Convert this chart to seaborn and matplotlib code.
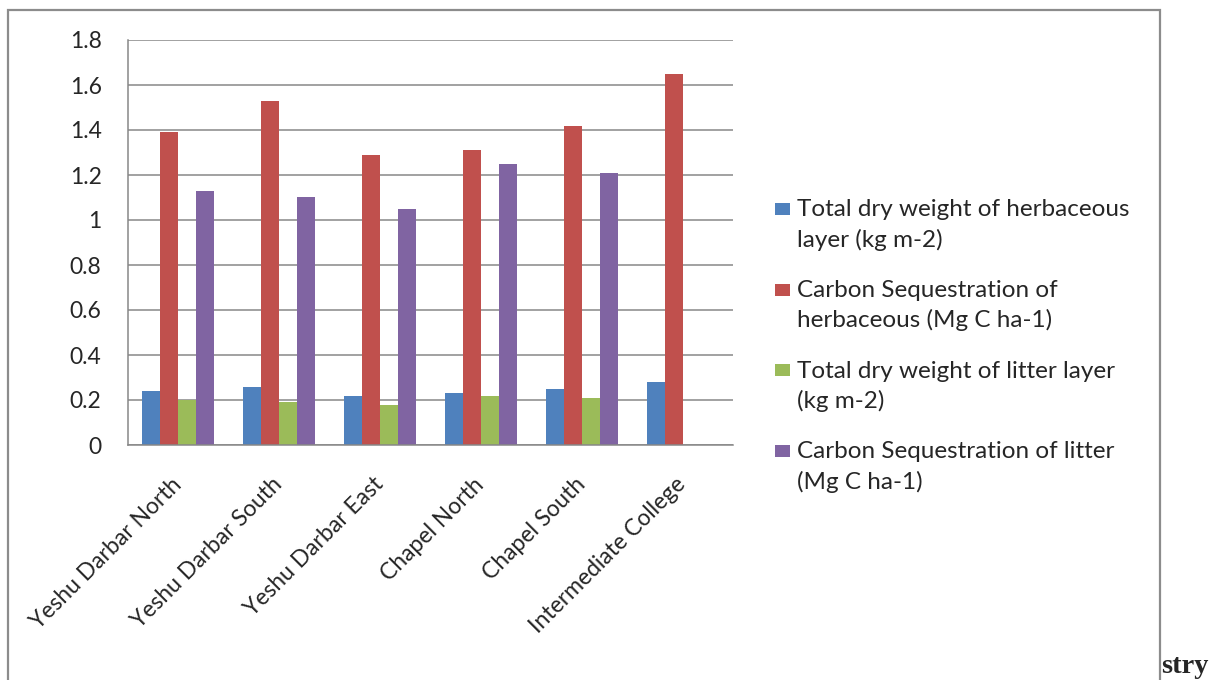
import numpy as np
import pandas as pd
import matplotlib
matplotlib.use("Agg")
import matplotlib.pyplot as plt
from matplotlib.patches import Rectangle
from matplotlib.legend_handler import HandlerPatch
import seaborn as sns

SITES = ['Yeshu Darbar North', 'Yeshu Darbar South', 'Yeshu Darbar East',
         'Chapel North', 'Chapel South', 'Intermediate College']
SERIES = ['Total dry weight of herbaceous\nlayer (kg m-2)',
          'Carbon Sequestration of\nherbaceous (Mg C ha-1)',
          'Total dry weight of litter layer\n(kg m-2)',
          'Carbon Sequestration of litter\n(Mg C ha-1)']
herb_dry = [0.24, 0.26, 0.22, 0.23, 0.25, 0.28]
herb_carbon = [1.39, 1.53, 1.29, 1.31, 1.42, 1.65]
litter_dry = [0.20, 0.19, 0.18, 0.22, 0.21, np.nan]
litter_carbon = [1.13, 1.10, 1.05, 1.25, 1.21, np.nan]
COLORS = ['#4F81BD', '#C0504D', '#9BBB59', '#8064A2']
YTICKS = [0, 0.2, 0.4, 0.6, 0.8, 1.0, 1.2, 1.4, 1.6, 1.8]
YLABELS = ['0', '0.2', '0.4', '0.6', '0.8', '1', '1.2', '1.4', '1.6', '1.8']

rows = []
for name, vals in zip(SERIES, [herb_dry, herb_carbon, litter_dry, litter_carbon]):
    for site, v in zip(SITES, vals):
        rows.append({'site': site, 'series': name, 'value': v})
df = pd.DataFrame(rows)

sns.set_style('white')
plt.rcParams['font.family'] = ['Lato', 'DejaVu Sans']
GRID = '#878787'
FS = 16.5
LEG_FS = 17.5

fig = plt.figure(figsize=(12.11, 6.8), dpi=100)
ax = fig.add_axes([128 / 1211, 1 - 445 / 680, (733 - 128) / 1211, (445 - 40) / 680])

sns.barplot(data=df.dropna(), x='site', y='value', hue='series', order=SITES,
            hue_order=SERIES, palette=COLORS, width=0.715, gap=0,
            linewidth=0, saturation=1, ax=ax, legend=True)

ax.set_ylim(0, 1.8)
ax.set_xlim(-0.5, len(SITES) - 0.5)
ax.set_yticks(YTICKS)
ax.set_yticklabels(YLABELS, fontsize=FS)
ax.set_axisbelow(True)
ax.yaxis.grid(True, color=GRID, linewidth=1.1)
ax.set_xlabel('')
ax.set_ylabel('')

# category labels at centres, tick marks on the boundaries
ax.set_xticks(np.arange(len(SITES)))
ax.set_xticklabels(SITES, fontsize=FS, rotation=45, ha='right',
                   rotation_mode='anchor', va='center')
ax.tick_params(axis='x', which='major', length=0, pad=26)
ax.set_xticks(np.arange(len(SITES) + 1) - 0.5, minor=True)
ax.tick_params(axis='x', which='minor', length=7, width=1.1, color=GRID, direction='out')
ax.tick_params(axis='y', length=6, width=1.1, color=GRID, direction='out', pad=13)

for s in ['top', 'right']:
    ax.spines[s].set_visible(False)
for s in ['left', 'bottom']:
    ax.spines[s].set_color(GRID)
    ax.spines[s].set_linewidth(1.1)

# legend with square marker beside the first line of each label
handles, labels = ax.get_legend_handles_labels()
ax.get_legend().remove()
MARK_UP = 13.0


def top_square(legend, orig_handle, xdescent, ydescent, width, height, fontsize):
    return Rectangle((-xdescent, -ydescent + MARK_UP), width, 8.6)


leg = fig.legend(handles, labels, loc='upper left',
                 bbox_to_anchor=(775 / 1211, 1 - 199 / 680),
                 frameon=False, fontsize=LEG_FS, handlelength=0.618, handleheight=0.66,
                 handletextpad=0.283, labelspacing=1.2, borderpad=0, borderaxespad=0,
                 handler_map={Rectangle: HandlerPatch(patch_func=top_square)})
for t in leg.get_texts():
    t.set_linespacing(1.47)

# outer frame of the embedded chart
fig.add_artist(Rectangle((8 / 1211, -0.1), (1160 - 8) / 1211, 1.1 - 10 / 680,
                         transform=fig.transFigure, fill=False,
                         edgecolor='#8c8c8c', linewidth=1.6))
fig.text(1161 / 1211, 7 / 680, 'stry', family='Liberation Serif',
         fontweight='bold', fontsize=20.5, va='baseline', ha='left')

fig.savefig('out.png', dpi=100)
